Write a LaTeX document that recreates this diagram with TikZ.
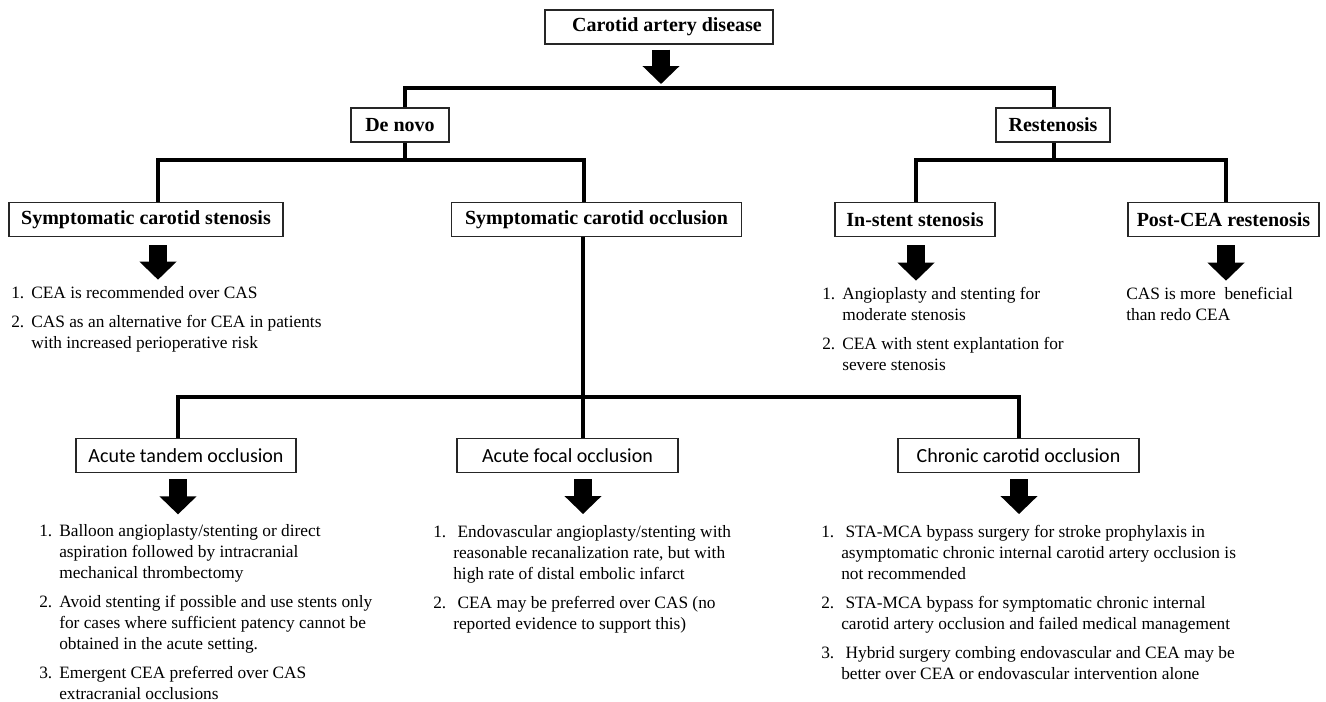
\documentclass[tikz,border=0pt]{standalone}
\usepackage{fontspec}
\setmainfont{Liberation Serif}
\newfontfamily\labelfont{Carlito}
\usetikzlibrary{arrows.meta}

\tikzstyle{hbox} = [rectangle, draw=black!85, line width=0.9pt, inner sep=0pt, minimum height=26pt, font=\fontsize{15}{18}\selectfont\bfseries]
\tikzstyle{lbox} = [rectangle, draw=black!85, line width=0.9pt, inner sep=0pt, minimum height=26pt, font=\labelfont\fontsize{15}{18}\selectfont]
\tikzstyle{recs} = [anchor=base west, inner sep=0pt, font=\fontsize{13}{15.75}\selectfont]

\begin{document}
\begin{tikzpicture}[x=0.75pt,y=-0.75pt]
        \tikzset{tree/.style={line width=3.2pt}, fatarrow/.style={line width=13.5pt, -{Triangle[width=27pt,length=13.5pt]}}}
        \useasboundingbox (0,0) rectangle (1326,701);
        % Headings
        \node (cad) at (659,27) [hbox, minimum width=171pt, minimum height=25.5pt] {\hspace*{12pt}Carotid artery disease};
        \node (denovo) at (400,125) [hbox, minimum width=73.5pt, minimum height=25.5pt] {De novo};
        \node (resten) at (1053,125) [hbox, minimum width=85.5pt, minimum height=25.5pt] {Restenosis};
        \node (symsten) at (146,219.5) [hbox, minimum width=205.5pt] {Symptomatic carotid stenosis};
        \node (symocc) at (596.5,219.5) [hbox, minimum width=217.5pt] {Symptomatic carotid occlusion};
        \node (instent) at (915,219.5) [hbox, minimum width=120pt] {In-stent stenosis};
        \node (postcea) at (1223.5,219.5) [hbox, minimum width=143.25pt] {Post-CEA restenosis};
        \node (tandem) at (186,455.5) [lbox, minimum width=165pt] {Acute tandem occlusion};
        \node (focal) at (567.5,455.5) [lbox, minimum width=165.75pt] {Acute focal occlusion};
        \node (chronic) at (1018.5,455.5) [lbox, minimum width=180.75pt] {Chronic carotid occlusion};

        % Recommendations
        \node (stenlist) at (11,298) [recs] {\begin{tabular}[t]{@{}p{15pt}@{}l@{}}
            1. & CEA is recommended over CAS\\[6pt]
            2. & CAS as an alternative for CEA in patients\\
               & with increased perioperative risk
        \end{tabular}};
        \node (instentlist) at (822,299) [recs] {\begin{tabular}[t]{@{}p{15pt}@{}l@{}}
            1. & Angioplasty and stenting for\\
               & moderate stenosis\\[6pt]
            2. & CEA with stent explantation for\\
               & severe stenosis
        \end{tabular}};
        \node (postlist) at (1126,299) [recs] {\begin{tabular}[t]{@{}l@{}}
            CAS is more\ \ beneficial\\
            than redo CEA
        \end{tabular}};
        \node (tandemlist) at (39,536) [recs] {\begin{tabular}[t]{@{}p{15pt}@{}l@{}}
            1. & Balloon angioplasty/stenting or direct\\
               & aspiration followed by intracranial\\
               & mechanical thrombectomy\\[6pt]
            2. & Avoid stenting if possible and use stents only\\
               & for cases where sufficient patency cannot be\\
               & obtained in the acute setting.\\[6pt]
            3. & Emergent CEA preferred over CAS\\
               & extracranial occlusions
        \end{tabular}};
        \node (focallist) at (433,537) [recs] {\begin{tabular}[t]{@{}p{15pt}@{}l@{}}
            1. & \ Endovascular angioplasty/stenting with\\
               & reasonable recanalization rate, but with\\
               & high rate of distal embolic infarct\\[6pt]
            2. & \ CEA may be preferred over CAS (no\\
               & reported evidence to support this)
        \end{tabular}};
        \node (chroniclist) at (821,537) [recs] {\begin{tabular}[t]{@{}p{15pt}@{}l@{}}
            1. & \ STA-MCA bypass surgery for stroke prophylaxis in\\
               & asymptomatic chronic internal carotid artery occlusion is\\
               & not recommended\\[6pt]
            2. & \ STA-MCA bypass for symptomatic chronic internal\\
               & carotid artery occlusion and failed medical management\\[6pt]
            3. & \ Hybrid surgery combing endovascular and CEA may be\\
               & better over CEA or endovascular intervention alone
        \end{tabular}};

        % Tree
        \coordinate (j1) at (661,88);
        \coordinate (d1) at (405,88);
        \coordinate (d2) at (1054,88);
        \coordinate (s1) at (158,160);
        \coordinate (s2) at (584,160);
        \coordinate (r1) at (916,160);
        \coordinate (r2) at (1226,160);
        \coordinate (o1) at (178,397);
        \coordinate (o2) at (583,397);
        \coordinate (o3) at (1019,397);
        \draw[tree] (denovo.north -| d1) -- (d1) -- (d2) -- (resten.north -| d2);
        \draw[tree] (denovo.south -| d1) -- (d1 |- s1);
        \draw[tree] (symsten.north -| s1) -- (s1) -- (s2) -- (symocc.north -| s2);
        \draw[tree] (resten.south -| d2) -- (d2 |- r1);
        \draw[tree] (instent.north -| r1) -- (r1) -- (r2) -- (postcea.north -| r2);
        \draw[tree] (symocc.south -| o2) -- (o2);
        \draw[tree] (tandem.north -| o1) -- (o1) -- (o3) -- (chronic.north -| o3);
        \draw[tree] (o2) -- (focal.north -| o2);

        % Block arrows
        \draw[fatarrow, shorten <=3.75pt, shorten >=3pt] (cad.south -| j1) -- (j1);
        \draw[fatarrow, shorten <=6pt, shorten >=2.5pt] (symsten.south -| s1) -- (stenlist.north -| s1);
        \draw[fatarrow, shorten <=6pt, shorten >=2.5pt] (instent.south -| r1) -- (instentlist.north -| r1);
        \draw[fatarrow, shorten <=6pt, shorten >=2.5pt] (postcea.south -| r2) -- (postlist.north -| r2);
        \draw[fatarrow, shorten <=4.5pt, shorten >=5pt] (tandem.south -| o1) -- (tandemlist.north -| o1);
        \draw[fatarrow, shorten <=4.5pt, shorten >=6pt] (focal.south -| o2) -- (focallist.north -| o2);
        \draw[fatarrow, shorten <=4.5pt, shorten >=6pt] (chronic.south -| o3) -- (chroniclist.north -| o3);
    \end{tikzpicture}
\end{document}
